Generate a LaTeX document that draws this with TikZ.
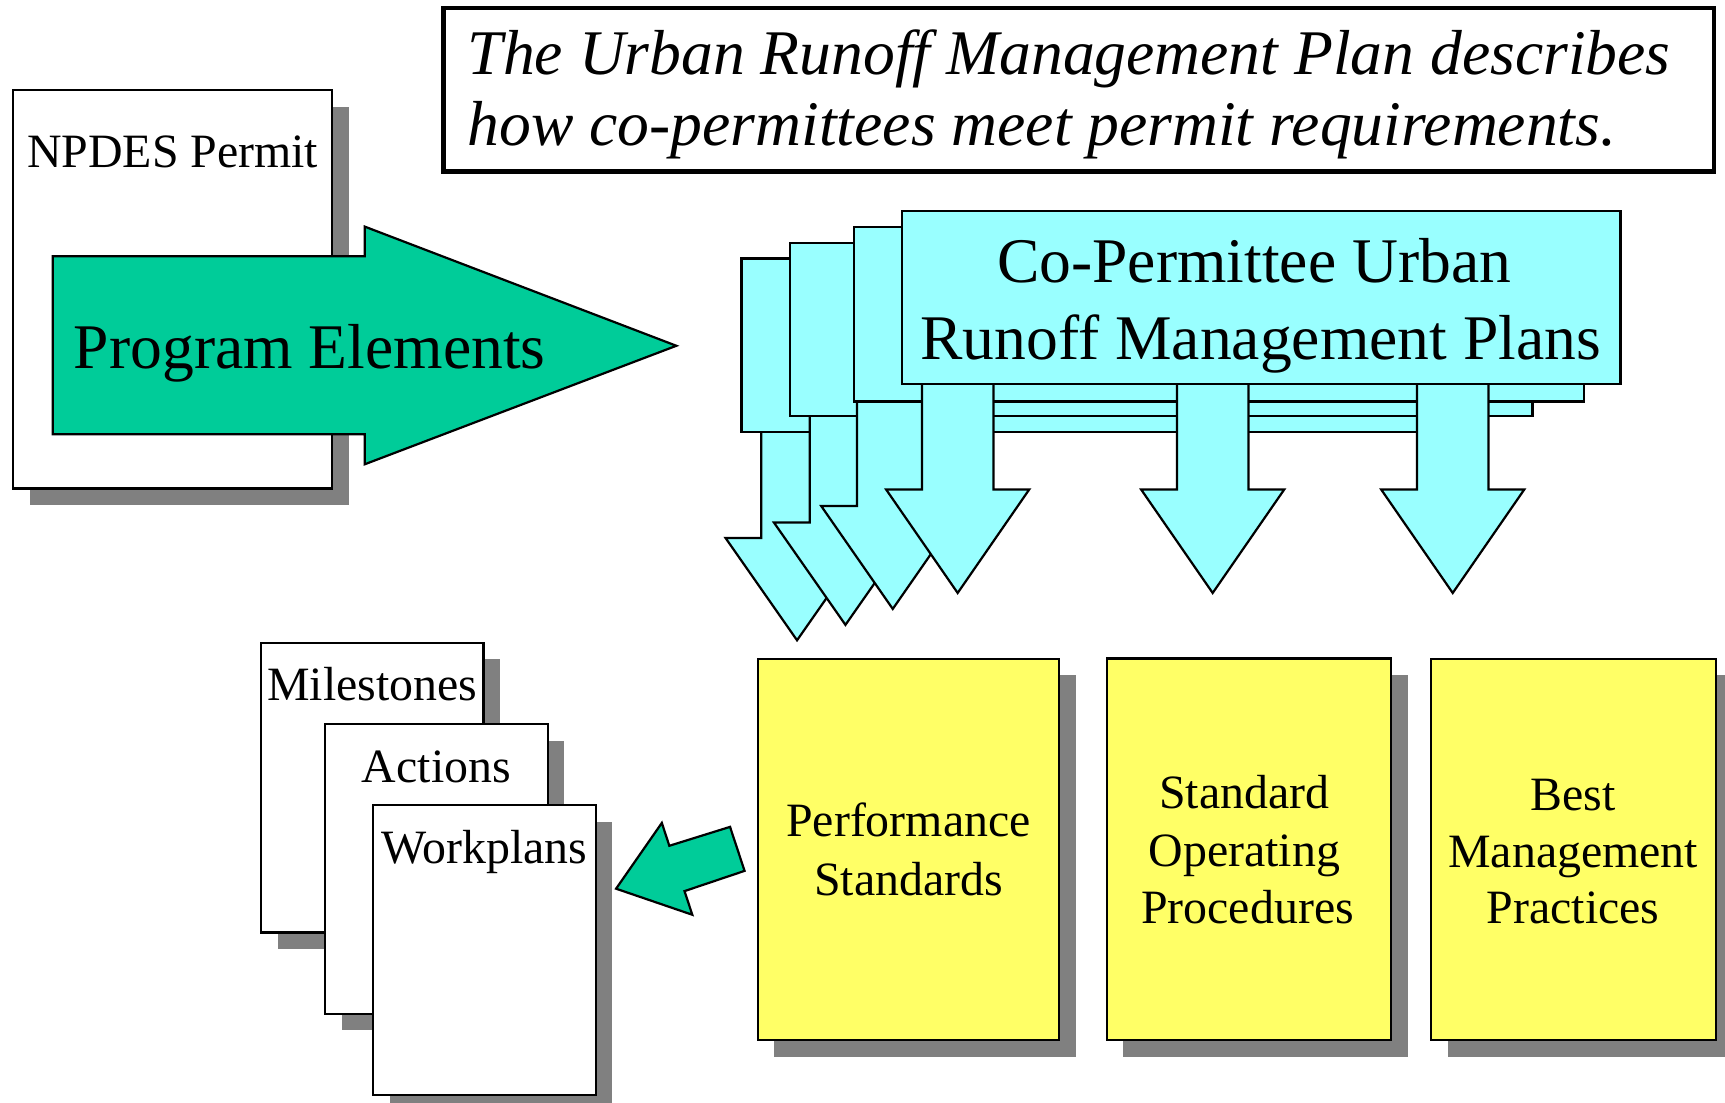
\documentclass[tikz,border=0pt]{standalone}
\usepackage{fontspec}
\setmainfont{Liberation Serif}
\usetikzlibrary{shadows}
\definecolor{cyanbox}{HTML}{99FFFF}
\definecolor{yellowbox}{HTML}{FFFF66}
\definecolor{greenarr}{HTML}{00CC99}
\definecolor{shadowgray}{HTML}{808080}
\newcommand\bigfont{\fontsize{57.8}{69}\selectfont}
\newcommand\smallfont{\fontsize{43.5}{52}\selectfont}
\newcommand\boxat[6]{\node[#1, anchor=north west, minimum width={(#5)-(#3)}, minimum height={(#6)-(#4)}] (#2) at (#3,#4) {};}
\newcommand\cyarrow[5]{\draw[cyn] ({#2-32.5},#3) -- ({#2-32.5},#4) -- ({#2-65},#4) -- (#2,#5) coordinate (#1) -- ({#2+65},#4) -- ({#2+32.5},#4) -- ({#2+32.5},#3) -- cycle;}
\begin{document}
\begin{tikzpicture}[x=1pt,y=-1pt,
  plain/.style={draw=black, line width=2pt, fill=white, inner sep=0pt, outer sep=0pt},
  shad/.style={drop shadow={shadow xshift=15pt, shadow yshift=-15pt, fill=shadowgray, opacity=1}},
  whitebox/.style={plain, shad},
  yellowrect/.style={plain, fill=yellowbox, shad},
  cyanrect/.style={plain, fill=cyanbox},
  titlebox/.style={plain, line width=4pt},
  cyn/.style={draw=black, line width=2pt, fill=cyanbox, line join=miter},
  grn/.style={draw=black, line width=2pt, fill=greenarr, line join=miter},
  lbl/.style={inner sep=0pt, anchor=base},
]
\useasboundingbox (0,0) rectangle (1568,1002);

% title
\boxat{titlebox}{title}{403}{7}{1558}{156}
\node[inner sep=0pt, anchor=base west] (t1) at (425,68) {\bigfont\itshape The Urban Runoff Management Plan describes};
\node[inner sep=0pt, anchor=base west] (t2) at (425,132) {\bigfont\itshape how co-permittees meet permit requirements.};

% NPDES permit
\boxat{whitebox}{npdes}{12}{82}{302}{444}
\node[lbl] (npdeslbl) at (157,152) {\smallfont NPDES Permit};

% Program elements arrow
\draw[grn] (48,233) -- (331.6,233) -- (331.6,206) -- (614.8,314.3) coordinate (pgtip) -- (331.6,422) -- (331.6,394.7) -- (48,394.7) -- cycle;
\node[inner sep=0pt, anchor=base west] (pglbl) at (67,334.7) {\bigfont Program Elements};

% stacked co-permittee plans (back to front)
\cyarrow{a1}{724.5}{388}{489}{582}
\boxat{cyanrect}{plan1}{674}{235}{1345}{393}
\cyarrow{a2}{768.5}{373}{475}{568}
\boxat{cyanrect}{plan2}{718}{221}{1393}{378}
\cyarrow{a3}{811.5}{360}{460}{553.5}
\boxat{cyanrect}{plan3}{776}{206}{1440}{365}
\cyarrow{a4}{870.5}{344}{445}{539}
\cyarrow{a5}{1102.3}{344}{445}{539}
\cyarrow{a6}{1320.5}{344}{445}{539}
\boxat{cyanrect}{plan4}{820}{192}{1473}{349}
\node[lbl] (cp1) at (1140,257) {\bigfont Co-Permittee Urban};
\node[lbl] (cp2) at (1146,326.7) {\bigfont Runoff Management Plans};

% yellow boxes
\boxat{yellowrect}{perf}{688.7}{599}{962.8}{945.5}
\node[lbl] (perf1) at (825.8,760.6) {\smallfont Performance};
\node[lbl] (perf2) at (825.8,813.6) {\smallfont Standards};
\boxat{yellowrect}{sop}{1006.2}{598.5}{1264.4}{945.5}
\node[lbl] (sop1) at (1131,734.8) {\smallfont Standard};
\node[lbl] (sop2) at (1131,787.9) {\smallfont Operating};
\node[lbl] (sop3) at (1134,839.4) {\smallfont Procedures};
\boxat{yellowrect}{bmp}{1300.9}{599}{1559.6}{945.5}
\node[lbl] (bmp1) at (1430,736.4) {\smallfont Best};
\node[lbl] (bmp2) at (1430,788.8) {\smallfont Management};
\node[lbl] (bmp3) at (1430,839.4) {\smallfont Practices};

% green small arrow
\draw[grn] (560,807.8) coordinate (sgtip) -- (601.6,748) -- (608.4,768.8) -- (663.6,751.6) -- (676.8,791.6) -- (622.2,810) -- (629.3,831.5) -- cycle;

% stacked workplans
\boxat{whitebox}{mile}{237.4}{584.2}{439.4}{847.7}
\node[lbl] (milelbl) at (338.4,636.7) {\smallfont Milestones};
\boxat{whitebox}{act}{295.7}{658.2}{497.8}{921.5}
\node[lbl] (actlbl) at (396.7,711) {\smallfont Actions};
\boxat{whitebox}{work}{339.3}{732}{541.4}{995.2}
\node[lbl] (worklbl) at (440.3,784.7) {\smallfont Workplans};
\end{tikzpicture}
\end{document}
